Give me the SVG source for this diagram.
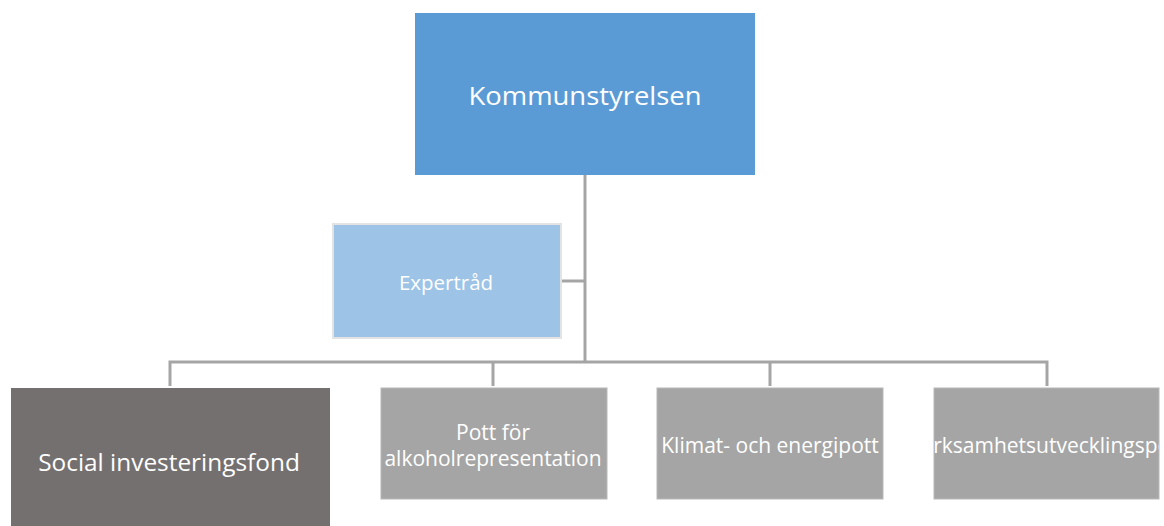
<svg xmlns="http://www.w3.org/2000/svg" width="1164" height="526" viewBox="0 0 1164 526">
<style>
text{font-family:"Open Sans","Noto Sans",sans-serif;fill:#ffffff;text-anchor:middle;dominant-baseline:central}
.conn{stroke:#A5A5A5;stroke-width:3;fill:none}
.gray{fill:#A5A5A5;stroke:#B8B8B8;stroke-width:1}
.small{font-size:21px}
</style>
<defs>
<clipPath id="clipV"><rect x="934" y="388" width="225" height="111"/></clipPath>
</defs>
<rect width="1164" height="526" fill="#ffffff"/>
<g id="connectors">
<path class="conn" d="M585 175V362"/>
<path class="conn" d="M562 281H585"/>
<path class="conn" d="M170 386V362H1047V386"/>
<path class="conn" d="M493 362V386"/>
<path class="conn" d="M770 362V386"/>
</g>
<g id="kommunstyrelsen">
<rect x="415" y="13" width="340" height="162" fill="#5B9BD5"/>
<text x="585" y="95" font-size="26" textLength="233" lengthAdjust="spacingAndGlyphs">Kommunstyrelsen</text>
</g>
<g id="expertrad">
<rect x="333" y="224" width="228" height="114" fill="#9DC3E6" stroke="#E3E3E3" stroke-width="2"/>
<text x="446" y="282" font-size="20.5">Expertråd</text>
</g>
<g id="social">
<rect x="11" y="388" width="319" height="140" fill="#747070"/>
<text x="169" y="461" font-size="24.4">Social investeringsfond</text>
</g>
<g id="pott">
<rect class="gray" x="381" y="388" width="226" height="111"/>
<text class="small" x="493" y="432">Pott för</text>
<text class="small" x="493" y="458">alkoholrepresentation</text>
</g>
<g id="klimat">
<rect class="gray" x="657" y="388" width="226" height="111"/>
<text class="small" x="770" y="445">Klimat- och energipott</text>
</g>
<g id="verksamhet">
<rect class="gray" x="934" y="388" width="225" height="111"/>
<text class="small" x="1047" y="445" clip-path="url(#clipV)">Verksamhetsutvecklingspott</text>
</g>
</svg>
